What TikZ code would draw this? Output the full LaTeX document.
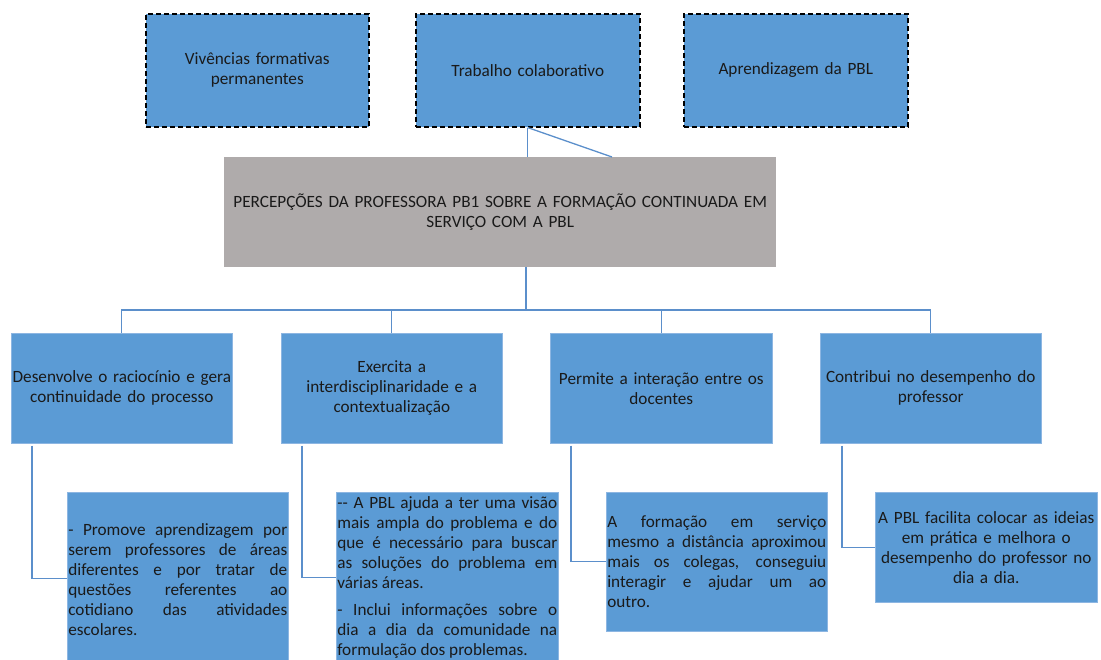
\documentclass[tikz,border=0pt]{standalone}
\usepackage{fontspec}
\setmainfont{Carlito}
\definecolor{boxblue}{HTML}{5B9BD5}
\definecolor{boxgray}{HTML}{AFABAB}
\definecolor{linkblue}{HTML}{5B8FCB}
\definecolor{edgeblue}{HTML}{8DB6E2}
\definecolor{txt}{HTML}{1A1A1A}
\tikzset{
  base/.style={anchor=north west, rectangle, inner ysep=0pt, text=txt,
    font=\fontsize{17.2}{20}\selectfont},
  topbox/.style={base, fill=boxblue, draw=black, line width=1.6pt,
    dash pattern=on 5pt off 3pt, align=center, inner xsep=4pt},
  graybox/.style={base, fill=boxgray, draw=none, align=center, inner xsep=2pt},
  midbox/.style={base, fill=boxblue, draw=edgeblue, line width=0.6pt, align=center, inner xsep=1pt},
  detbox/.style={base, fill=boxblue, draw=edgeblue, line width=0.6pt, align=justify, inner xsep=1pt},
  link/.style={draw=linkblue, line width=1.3pt}
}
\begin{document}
\begin{tikzpicture}[x=1pt,y=-1pt]
\useasboundingbox (0,0) rectangle (1101,660);
% top boxes
\node[topbox, minimum width=223pt, minimum height=113pt, text width=215pt] (t1) at (145,13) {Vivências formativas\\permanentes};
\node[topbox, minimum width=224pt, minimum height=113pt, text width=216pt] (t2) at (415,13) {Trabalho colaborativo};
\node[topbox, minimum width=224pt, minimum height=113pt, text width=216pt] (t3) at (683,13) {Aprendizagem da PBL};
% central
\node[graybox, minimum width=552pt, minimum height=110pt, text width=548pt] (g) at (224,157) {PERCEPÇÕES DA PROFESSORA PB1 SOBRE A FORMAÇÃO CONTINUADA EM\\SERVIÇO COM A PBL\\[4pt]};
% second row
\node[midbox, minimum width=221pt, minimum height=110pt, text width=219pt] (r1) at (11,333) {Desenvolve o raciocínio e gera\\continuidade do processo};
\node[midbox, minimum width=221pt, minimum height=110pt, text width=219pt] (r2) at (281,333) {Exercita a\\interdisciplinaridade e a\\contextualização};
\node[midbox, minimum width=222pt, minimum height=110pt, text width=220pt] (r3) at (550,333) {Permite a interação entre os\\docentes};
\node[midbox, minimum width=221pt, minimum height=110pt, text width=219pt] (r4) at (820,333) {Contribui no desempenho do\\professor};
% detail boxes
\node[detbox, minimum width=221pt, minimum height=174pt, text width=219pt] (d1) at (67,492) {- Promove aprendizagem por\linebreak serem professores de áreas\linebreak diferentes e por tratar de\linebreak questões referentes ao\linebreak cotidiano das atividades\linebreak escolares.};
\node[detbox, minimum width=222pt, minimum height=170pt, text width=220pt] (d2) at (336,492) {-{}- A PBL ajuda a ter uma visão\linebreak mais ampla do problema e do\linebreak que é necessário para buscar\linebreak as soluções do problema em\linebreak várias áreas.\par\vspace{7pt}- Inclui informações sobre o\linebreak dia a dia da comunidade na\linebreak formulação dos problemas.};
\node[detbox, minimum width=221pt, minimum height=139pt, text width=219pt] (d3) at (606,492) {A formação em serviço\linebreak mesmo a distância aproximou\linebreak mais os colegas, conseguiu\linebreak interagir e ajudar um ao\linebreak outro.};
\node[detbox, align=center, minimum width=222pt, minimum height=110pt, text width=218pt, inner xsep=2pt] (d4) at (875,492) {A PBL facilita colocar as ideias\\em prática e melhora o\\desempenho do professor no\\dia a dia.};
% connectors top
\coordinate (gd) at (612,157);
\draw[link] (t2.south) -- (t2.south |- g.north);
\draw[link] (t2.south) -- (gd);
% bus
\coordinate (bus) at (526,310);
\draw[link] (bus |- g.south) -- (bus);
\draw[link] (r1.north) -- (r1.north |- bus) -- (r4.north |- bus) -- (r4.north);
\draw[link] (r2.north) -- (r2.north |- bus);
\draw[link] (r3.north) -- (r3.north |- bus);
% detail connectors
\draw[link] ([xshift=21pt,yshift=-2pt]r1.south west) |- ([yshift=1pt]d1.west);
\draw[link] ([xshift=21pt,yshift=-2pt]r2.south west) |- (d2.west);
\draw[link] ([xshift=21pt,yshift=-2pt]r3.south west) |- (d3.west);
\draw[link] ([xshift=22pt,yshift=-2pt]r4.south west) |- (d4.west);
\end{tikzpicture}
\end{document}
